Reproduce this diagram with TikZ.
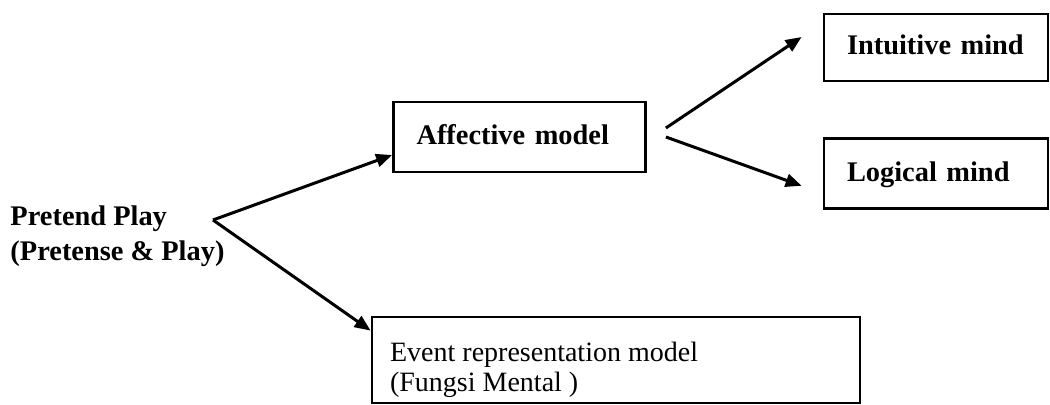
\documentclass[tikz,border=0pt]{standalone}
\usepackage{fontspec}
\setmainfont{Liberation Serif}
\usetikzlibrary{positioning}
\usetikzlibrary{arrows.meta}
\tikzset{
  boxnode/.style = {align=center, inner sep=0pt, text centered,
    font=\bfseries\fontsize{14.2}{17.5}\selectfont},
  box_m/.style = {boxnode, rectangle, draw=black, line width=1.4pt,
    text depth=0.25em, align=left, inner xsep=11.5pt},% boite, modele
  box_t/.style = {boxnode, align=left},% texte seul
  box_e/.style = {box_t, font=\fontsize{14}{15}\selectfont}% texte, evenement
}

\begin{document}
\begin{tikzpicture}[x=0.5pt,y=0.5pt,->,>={Triangle[length=8pt,width=6.5pt]},
  line width=1.5pt]
\useasboundingbox (0,0) rectangle (1050,405);
\node [box_t, anchor=north west] (pp) at (9,201) {Pretend Play\\(Pretense \& Play)};
\coordinate (split) at (213,185);
\node [box_m, text width=103pt, minimum height=35pt] (aff) at (519.5,268) {Affective model};
\node [box_m, text width=89pt, minimum height=33.5pt] (int) at (936,357.5) {Intuitive mind};
\node [box_m, text width=89pt, minimum height=35pt, below=27.5pt of int] (log) {Logical mind};
\node [box_m, minimum width=244pt, minimum height=43pt] (evt) at (616,45) {};
\node [box_e, anchor=north west] (evt_t) at ([xshift=9pt,yshift=-12.25pt]evt.north west)
  {Event representation model\\(Fungsi Mental )};
% fleches
\draw (split) -- ([yshift=-9pt]aff.west);
\draw (split) -- ([yshift=-7.5pt]evt.north west);
\draw ([xshift=9.5pt,yshift=4.5pt]aff.east) -- ([xshift=-10.5pt,yshift=5.25pt]int.west);
\draw ([xshift=9.5pt]aff.east) -- ([xshift=-10.5pt,yshift=-6pt]log.west);
\end{tikzpicture}
\end{document}
